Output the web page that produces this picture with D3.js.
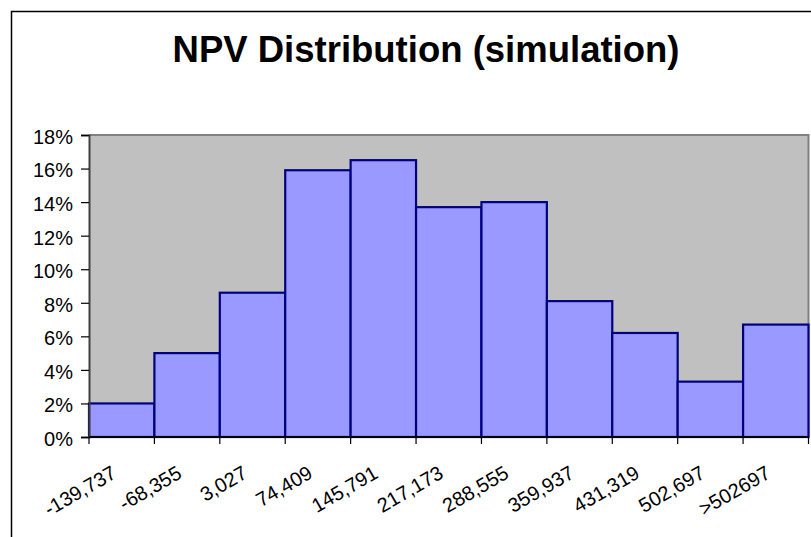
<!DOCTYPE html>
<html>
<head>
<meta charset="utf-8">
<script src="https://cdn.jsdelivr.net/npm/d3@7"></script>
<style>
  html, body { margin: 0; padding: 0; background: #fff; }
  svg { display: block; }
  text { font-family: Arial, "Liberation Sans", sans-serif; fill: #000; }
</style>
</head>
<body>
<svg id="chart" width="811" height="537"></svg>
<script>
// NPV bins (upper bound of each bin) and share of simulation runs falling in each
const binLabels = ["-139,737", "-68,355", "3,027", "74,409", "145,791", "217,173",
                   "288,555", "359,937", "431,319", "502,697", ">502697"];
const frequency = [0.020, 0.050, 0.086, 0.159, 0.165, 0.137, 0.140, 0.081, 0.062, 0.033, 0.067];
const yTicks = [0, 0.02, 0.04, 0.06, 0.08, 0.10, 0.12, 0.14, 0.16, 0.18];
const chartTitle = "NPV Distribution (simulation)";

const svg = d3.select("#chart");
const plot = { left: 89, right: 808.5, top: 135, bottom: 437 };

// Outer chart frame (extends past the window on the right and bottom)
svg.append("rect")
  .attr("x", 11.5).attr("y", 11.5)
  .attr("width", 860).attr("height", 600)
  .attr("fill", "#fff").attr("stroke", "#000").attr("stroke-width", 1.5);

// Title
svg.append("text")
  .attr("x", 426).attr("y", 62)
  .attr("text-anchor", "middle")
  .attr("font-size", 36.5).attr("font-weight", "bold")
  .text(chartTitle);

const x = d3.scaleBand()
  .domain(binLabels)
  .range([plot.left, plot.right])
  .padding(0);

const y = d3.scaleLinear()
  .domain([0, 0.18])
  .range([plot.bottom, plot.top]);

// Plot area background
svg.append("rect")
  .attr("x", plot.left).attr("y", plot.top)
  .attr("width", plot.right - plot.left).attr("height", plot.bottom - plot.top)
  .attr("fill", "#c0c0c0");

// Plot area border (top and right)
svg.append("path")
  .attr("d", `M${plot.left},${plot.top}H${plot.right}V${plot.bottom}`)
  .attr("fill", "none").attr("stroke", "#808080").attr("stroke-width", 2);

// Histogram bars
svg.append("g").selectAll("rect")
  .data(frequency)
  .join("rect")
  .attr("x", (d, i) => x(binLabels[i]))
  .attr("y", d => y(d))
  .attr("width", x.bandwidth())
  .attr("height", d => y(0) - y(d))
  .attr("fill", "#9999ff")
  .attr("stroke", "#000080")
  .attr("stroke-width", 2.2);

// Y axis
const yAxis = svg.append("g")
  .attr("transform", `translate(${plot.left},0)`)
  .call(d3.axisLeft(y).tickValues(yTicks).tickFormat(d3.format(".0%")).tickSize(8).tickPadding(8));
yAxis.select(".domain").attr("stroke", "#404040").attr("stroke-width", 2);
yAxis.selectAll(".tick line").attr("stroke", "#000").attr("stroke-width", 1.2);
yAxis.selectAll(".tick text")
  .attr("font-size", 20)
  .attr("font-family", "Arial, 'Liberation Sans', sans-serif")
  .attr("dy", "0.42em");

// X axis: ticks at bin boundaries, labels rotated under each bin
const boundaries = binLabels.map(b => x(b)).concat([plot.right]);
const xg = svg.append("g");
xg.append("line")
  .attr("x1", plot.left).attr("x2", plot.right)
  .attr("y1", plot.bottom).attr("y2", plot.bottom)
  .attr("stroke", "#000").attr("stroke-width", 2);
xg.selectAll(".tick")
  .data(boundaries)
  .join("line")
  .attr("x1", d => d).attr("x2", d => d)
  .attr("y1", plot.bottom).attr("y2", plot.bottom + 7)
  .attr("stroke", "#000").attr("stroke-width", 1.2);
xg.selectAll("text")
  .data(binLabels)
  .join("text")
  .attr("text-anchor", "end")
  .attr("font-size", 20)
  .attr("transform", d => `translate(${x(d) + x.bandwidth() / 2 - 4},477) rotate(-30)`)
  .text(d => d);
</script>
</body>
</html>
